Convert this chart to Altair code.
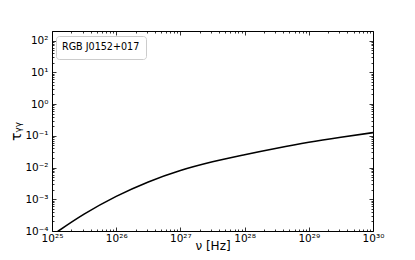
import altair as alt
import pandas as pd

# Curve (frequency in Hz, optical depth)
nu = [1.0e25, 1.26e25, 3.16e25, 1.0e26, 3.16e26, 1.0e27, 3.16e27, 1.0e28,
      3.16e28, 1.0e29, 3.16e29, 1.0e30]
tau = [7.2e-5, 1.0e-4, 3.39e-4, 1.23e-3, 3.51e-3, 8.04e-3, 1.51e-2, 2.54e-2,
       4.07e-2, 6.24e-2, 9.02e-2, 1.26e-1]
series_name = "RGB J0152+017"
series = [series_name] * len(nu)

x_major = [1e25, 1e26, 1e27, 1e28, 1e29, 1e30]
x_labels = ["10²⁵", "10²⁶", "10²⁷", "10²⁸", "10²⁹", "10³⁰"]
y_major = [1e-4, 1e-3, 1e-2, 1e-1, 1e0, 1e1, 1e2]
y_labels = ["10⁻⁴", "10⁻³", "10⁻²", "10⁻¹", "10⁰", "10¹", "10²"]

x_minor = [k * 10.0 ** e for e in range(25, 30) for k in range(2, 10)]
y_minor = [k * 10.0 ** e for e in range(-4, 3) for k in range(2, 10) if k * 10.0 ** e <= 200]

df = pd.DataFrame({"nu": nu, "tau": tau, "name": series})

W, H = 321, 200
FONT = "DejaVu Sans"

def lab_expr(labels, first_exp):
    arr = "[" + ",".join("'" + s + "'" for s in labels) + "]"
    return f"{arr}[round(log(datum.value)/LN10) - ({first_exp})]"

xs = alt.Scale(type="log", domain=[1e25, 1e30], nice=False)
ys = alt.Scale(type="log", domain=[1e-4, 2e2], nice=False)

def ax(**kw):
    base = dict(grid=False, domain=False, title="", labels=False, tickColor="black", tickWidth=0.8)
    base.update(kw)
    return alt.Axis(**base)

base = alt.Chart(df)

line = base.mark_line(strokeWidth=1.6, clip=True, interpolate="monotone").encode(
    x=alt.X("nu:Q", scale=xs, axis=ax(orient="bottom", values=x_major, ticks=False, labels=True,
                                        labelExpr=lab_expr(x_labels, 25), title="ν [Hz]",
                                        labelPadding=2, labelFontSize=10.5,
                                        titleFontSize=12, titleFontWeight="normal",
                                        titleY=18, titleBaseline="alphabetic",
                                        labelFlush=False)),
    y=alt.Y("tau:Q", scale=ys, axis=ax(orient="left", values=y_major, ticks=False, labels=True,
                                         labelExpr=lab_expr(y_labels, -4), title="τᵧᵧ",
                                         labelPadding=4, titlePadding=1, labelFontSize=10.5,
                                         titleFontSize=14, titleFontWeight="normal",
                                         labelFlush=False)),
    color=alt.Color("name:N", scale=alt.Scale(range=["black"]),
                    legend=alt.Legend(title=series_name, orient="none", legendX=4, legendY=5,
                                      fillColor="white", strokeColor="#cccccc", cornerRadius=3,
                                      padding=6, symbolSize=0, symbolStrokeWidth=0,
                                      symbolOpacity=0, labelOffset=0, labelFontSize=1,
                                      labelExpr="''", labelOpacity=0, titlePadding=0,
                                      titleFontSize=9.6, titleFontWeight="normal",
                                      titleFont=FONT, titleColor="black", titleLimit=0)),
)

def tick_layer(xaxis, yaxis):
    return base.mark_line(strokeOpacity=0).encode(
        x=alt.X("nu:Q", scale=xs, axis=xaxis),
        y=alt.Y("tau:Q", scale=ys, axis=yaxis),
    )

l2 = tick_layer(ax(orient="top", offset=-H, values=x_major, tickSize=4),
                ax(orient="right", offset=-W, values=y_major, tickSize=4))
l3 = tick_layer(ax(orient="top", offset=-H, values=x_minor, tickSize=2),
                ax(orient="right", offset=-W, values=y_minor, tickSize=2))
l4 = tick_layer(ax(orient="bottom", offset=-H, values=x_major, tickSize=4),
                ax(orient="left", offset=-W, values=y_major, tickSize=4))
l5 = tick_layer(ax(orient="bottom", offset=-H, values=x_minor, tickSize=2),
                ax(orient="left", offset=-W, values=y_minor, tickSize=2))

chart = alt.layer(line, l2, l3, l4, l5).resolve_axis(
    x="independent", y="independent"
).properties(
    width=W, height=H,
    autosize=alt.AutoSizeParams(type="none"),
    padding={"left": 44, "top": 23, "right": 34, "bottom": 21},
    background="white",
).configure_view(stroke="black", strokeWidth=1).configure_axis(
    labelFont=FONT, titleFont=FONT, labelColor="black", titleColor="black"
)

chart.save("out.html", embed_options={"renderer": "svg", "actions": False})
